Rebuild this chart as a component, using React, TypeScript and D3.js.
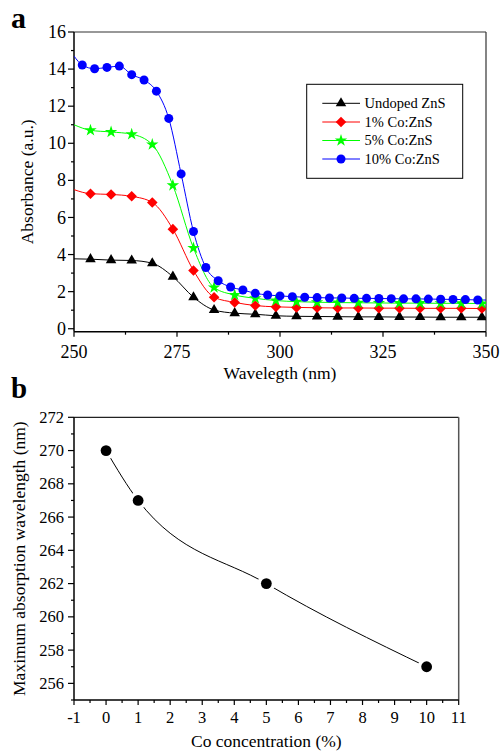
import React from "react";
import * as d3 from "d3";

// ---------- Panel a data ----------
const wl5 = [254, 259, 264, 269, 274, 279, 284, 289, 294, 299, 304, 309, 314, 319, 324, 329, 334, 339, 344, 349];
const wl3 = [252, 255, 258, 261, 264, 267, 270, 273, 276, 279, 282, 285, 288, 291, 294, 297, 300, 303, 306, 309, 312, 315, 318, 321, 324, 327, 330, 333, 336, 339, 342, 345, 348];
const undoped = [3.75, 3.70, 3.68, 3.53, 2.81, 1.70, 1.01, 0.84, 0.78, 0.70, 0.67, 0.66, 0.65, 0.64, 0.64, 0.63, 0.63, 0.62, 0.62, 0.62];
const co1 = [7.28, 7.24, 7.14, 6.81, 5.37, 3.14, 1.70, 1.42, 1.25, 1.18, 1.15, 1.13, 1.12, 1.12, 1.11, 1.11, 1.10, 1.10, 1.10, 1.09];
const co5 = [10.70, 10.61, 10.49, 9.93, 7.73, 4.35, 2.22, 1.82, 1.64, 1.52, 1.46, 1.43, 1.41, 1.40, 1.39, 1.38, 1.38, 1.37, 1.37, 1.36];
const co10 = [14.22, 14.02, 14.09, 14.16, 13.70, 13.41, 12.81, 11.34, 8.35, 5.24, 3.30, 2.59, 2.25, 2.09, 1.91, 1.82, 1.77, 1.73, 1.70, 1.68, 1.66, 1.66, 1.64, 1.64, 1.63, 1.62, 1.61, 1.61, 1.60, 1.59, 1.58, 1.57, 1.55];
// line values at the left (250 nm) and right (350 nm) edges
const startValues = [3.77, 7.5, 11.0, 14.7];
const endValues = [0.62, 1.09, 1.36, 1.55];
const seriesNames = ["Undoped ZnS", "1% Co:ZnS", "5% Co:ZnS", "10% Co:ZnS"];
const seriesColors = ["#000000", "#ff0000", "#00ff00", "#0000ff"];
const seriesShapes = ["triangle", "diamond", "star", "circle"];
const xTicksA = [250, 275, 300, 325, 350];
const yTicksA = [0, 2, 4, 6, 8, 10, 12, 14, 16];

// ---------- Panel b data ----------
const coConc = [0, 1, 5, 10];
const maxWl = [270, 267, 262, 257];
const xTicksB = [-1, 0, 1, 2, 3, 4, 5, 6, 7, 8, 9, 10, 11];
const yTicksB = [256, 258, 260, 262, 264, 266, 268, 270, 272];

const FONT = "Liberation Serif, DejaVu Serif, serif";

function Marker({ shape, x, y, color }: { shape: string; x: number; y: number; color: string }) {
  if (shape === "circle") return <circle cx={x} cy={y} r={4.5} fill={color} />;
  let path = "";
  let rot = 0;
  if (shape === "triangle") path = d3.symbol(d3.symbolTriangle, 48)() as string;
  if (shape === "diamond") {
    path = d3.symbol(d3.symbolSquare, 56)() as string;
    rot = 45;
  }
  if (shape === "star") path = d3.symbol(d3.symbolStar, 48)() as string;
  return <path d={path} transform={`translate(${x},${y}) rotate(${rot})`} fill={color} />;
}

export default function App() {
  // Panel a scales
  const ax0 = 74, ax1 = 486, ay0 = 32, ay1 = 331.7;
  const xA = d3.scaleLinear().domain([250, 350]).range([ax0, ax1]);
  const yA = d3.scaleLinear().domain([-0.16, 16]).range([ay1, ay0]);
  const allSeries = [undoped, co1, co5, co10];
  const allWl = [wl5, wl5, wl5, wl3];
  const lineA = d3
    .line<[number, number]>()
    .x((d) => xA(d[0]))
    .y((d) => yA(d[1]))
    .curve(d3.curveMonotoneX);

  // Panel b scales
  const bx0 = 74, bx1 = 458.7, by0 = 417.3, by1 = 700;
  const xB = d3.scaleLinear().domain([-1, 11]).range([bx0, bx1]);
  const yB = d3.scaleLinear().domain([255, 272]).range([by1, by0]);
  const lineB = d3
    .line<number>()
    .x((_, i) => xB(coConc[i]))
    .y((d) => yB(d))
    .curve(d3.curveMonotoneX);

  const minorXA = d3.range(250, 351, 12.5).filter((v) => v % 25 !== 0);
  const minorYA = d3.range(1, 16, 2);
  const minorXB = d3.range(-0.5, 11, 1);
  const minorYB = d3.range(255, 272, 2);

  const legendX = 306.7, legendY = 84.3;
  const legendRows = [103.3, 122, 140.5, 159];

  const txt = { fontFamily: FONT, fill: "#000" };

  return (
    <svg
      width={500}
      height={753}
      style={{ position: "absolute", left: 0, top: 0, background: "#fff", fontFamily: FONT }}
    >
      <defs>
        <clipPath id="clipA">
          <rect x={ax0} y={ay0} width={ax1 - ax0} height={ay1 - ay0} />
        </clipPath>
      </defs>
      {/* ================= Panel a ================= */}
      <text x={11} y={28} fontSize={30} fontWeight="bold" style={txt}>a</text>
      {/* frame */}
      <line x1={ax0} y1={ay0} x2={ax1} y2={ay0} stroke="#333" strokeWidth={1.2} />
      <line x1={ax1} y1={ay0} x2={ax1} y2={ay1} stroke="#333" strokeWidth={1.2} />
      <line x1={ax0} y1={ay0} x2={ax0} y2={ay1} stroke="#000" strokeWidth={1.5} />
      <line x1={ax0} y1={ay1} x2={ax1} y2={ay1} stroke="#000" strokeWidth={1.5} />
      {/* y ticks */}
      {yTicksA.map((t) => (
        <g key={"ya" + t}>
          <line x1={ax0 - 6} x2={ax0} y1={yA(t)} y2={yA(t)} stroke="#000" strokeWidth={1.2} />
          <text x={ax0 - 8} y={yA(t)} dy="0.34em" textAnchor="end" fontSize={18} style={txt}>{t}</text>
        </g>
      ))}
      {minorYA.map((t) => (
        <line key={"mya" + t} x1={ax0 - 3} x2={ax0} y1={yA(t)} y2={yA(t)} stroke="#000" strokeWidth={1.2} />
      ))}
      {/* x ticks */}
      {xTicksA.map((t) => (
        <g key={"xa" + t}>
          <line x1={xA(t)} x2={xA(t)} y1={ay1} y2={ay1 + 5} stroke="#000" strokeWidth={1.2} />
          <text x={xA(t)} y={358} textAnchor="middle" fontSize={18} style={txt}>{t}</text>
        </g>
      ))}
      {minorXA.map((t) => (
        <line key={"mxa" + t} x1={xA(t)} x2={xA(t)} y1={ay1} y2={ay1 + 3} stroke="#000" strokeWidth={1.2} />
      ))}
      <text x={(ax0 + ax1) / 2} y={379} textAnchor="middle" fontSize={17.5} style={txt}>Wavelegth (nm)</text>
      <text
        transform={`translate(33,${(ay0 + ay1) / 2}) rotate(-90)`}
        textAnchor="middle"
        fontSize={17.5}
        style={txt}
      >
        Absorbance (a.u.)
      </text>
      {/* series */}
      <g clipPath="url(#clipA)">
        {allSeries.map((vals, si) => {
          const pts: [number, number][] = [
            [250, startValues[si]],
            ...vals.map((v, i) => [allWl[si][i], v] as [number, number]),
            [350, endValues[si]],
          ];
          return (
            <path key={"la" + si} d={lineA(pts) as string} fill="none" stroke={seriesColors[si]} strokeWidth={1} />
          );
        })}
        {allSeries.map((vals, si) => (
          <g key={"ma" + si}>
            {vals.map((v, i) => (
              <Marker key={i} shape={seriesShapes[si]} x={xA(allWl[si][i])} y={yA(v)} color={seriesColors[si]} />
            ))}
          </g>
        ))}
      </g>
      {/* legend */}
      <rect x={legendX} y={legendY} width={156} height={94} fill="#fff" stroke="#000" strokeWidth={1} />
      {seriesNames.map((name, i) => (
        <g key={"lg" + i}>
          <line x1={322.3} x2={360} y1={legendRows[i]} y2={legendRows[i]} stroke={seriesColors[i]} strokeWidth={1} />
          <Marker shape={seriesShapes[i]} x={341} y={legendRows[i]} color={seriesColors[i]} />
          <text x={364.5} y={legendRows[i]} dy="0.33em" fontSize={14.5} style={txt}>{name}</text>
        </g>
      ))}

      {/* ================= Panel b ================= */}
      <text x={11} y={398} fontSize={29} fontWeight="bold" style={txt}>b</text>
      <line x1={bx0} y1={by0} x2={bx1} y2={by0} stroke="#222" strokeWidth={1.2} />
      <line x1={bx1} y1={by0} x2={bx1} y2={by1} stroke="#555" strokeWidth={1.5} />
      <line x1={bx0} y1={by0} x2={bx0} y2={by1} stroke="#000" strokeWidth={1.5} />
      <line x1={bx0} y1={by1} x2={bx1} y2={by1} stroke="#000" strokeWidth={1.5} />
      {yTicksB.map((t) => (
        <g key={"yb" + t}>
          <line x1={bx0 - 6} x2={bx0} y1={yB(t)} y2={yB(t)} stroke="#000" strokeWidth={1.2} />
          <text x={bx0 - 10} y={yB(t)} dy="0.34em" textAnchor="end" fontSize={16.5} style={txt}>{t}</text>
        </g>
      ))}
      {minorYB.map((t) => (
        <line key={"myb" + t} x1={bx0 - 3} x2={bx0} y1={yB(t)} y2={yB(t)} stroke="#000" strokeWidth={1.2} />
      ))}
      {xTicksB.map((t) => (
        <g key={"xb" + t}>
          <line x1={xB(t)} x2={xB(t)} y1={by1} y2={by1 + 5} stroke="#000" strokeWidth={1.2} />
          <text x={xB(t)} y={723} textAnchor="middle" fontSize={16.5} style={txt}>{t}</text>
        </g>
      ))}
      {minorXB.map((t) => (
        <line key={"mxb" + t} x1={xB(t)} x2={xB(t)} y1={by1} y2={by1 + 3} stroke="#000" strokeWidth={1.2} />
      ))}
      <text x={(bx0 + bx1) / 2} y={747} textAnchor="middle" fontSize={17.5} style={txt}>Co concentration (%)</text>
      <text
        transform={`translate(25,${(by0 + by1) / 2}) rotate(-90)`}
        textAnchor="middle"
        fontSize={17.5}
        style={txt}
      >
        Maximum absorption wavelength (nm)
      </text>
      <path d={lineB(maxWl) as string} fill="none" stroke="#000" strokeWidth={1} />
      {maxWl.map((v, i) => (
        <g key={"pb" + i}>
          <circle cx={xB(coConc[i])} cy={yB(v)} r={9} fill="#fff" />
          <circle cx={xB(coConc[i])} cy={yB(v)} r={5.4} fill="#000" />
        </g>
      ))}
    </svg>
  );
}
